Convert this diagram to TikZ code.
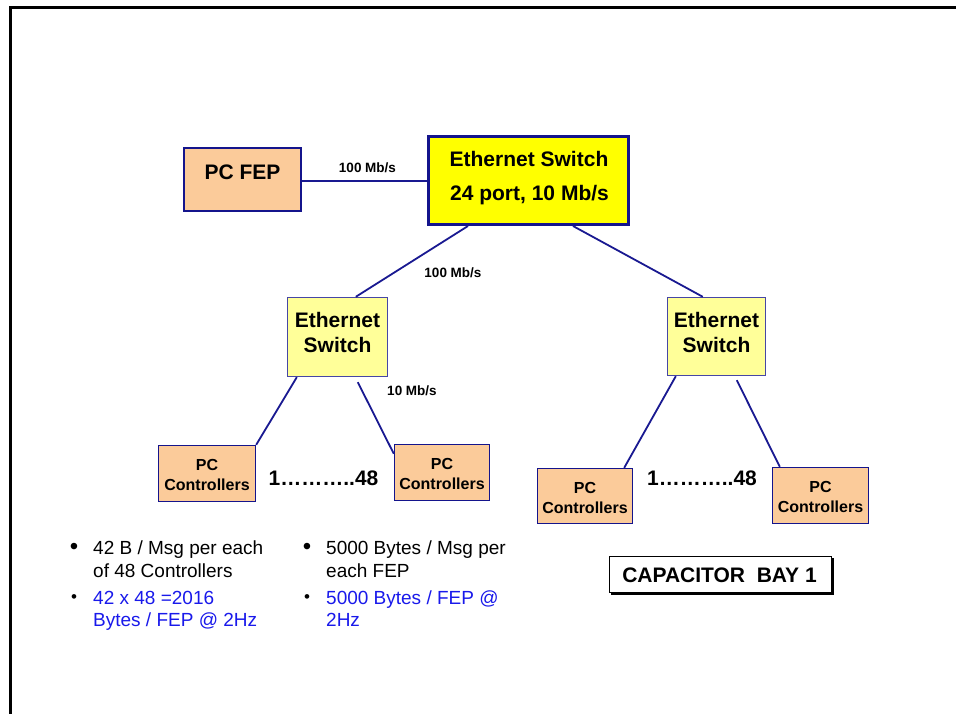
\documentclass[tikz,border=0pt]{standalone}
\usepackage{fontspec}
\setmainfont{Liberation Sans}
\definecolor{navyb}{RGB}{20,20,140}
\definecolor{edgeblue}{RGB}{25,25,145}
\definecolor{swborder}{RGB}{70,70,165}
\definecolor{peach}{RGB}{251,203,154}
\definecolor{ltyellow}{RGB}{255,255,153}
\definecolor{brtyellow}{RGB}{255,255,0}
\definecolor{bluetext}{RGB}{25,25,235}
\begin{document}
\begin{tikzpicture}[x=1pt,y=-1pt,
  conn/.style={draw=edgeblue,line width=1.8pt},
  fepbox/.style={draw=navyb,fill=peach,line width=2.2pt,inner sep=0pt},
  ctrlbox/.style={draw=navyb,fill=peach,line width=1.4pt,inner sep=0pt},
  bigsw/.style={draw=navyb,fill=brtyellow,line width=3pt,inner sep=0pt},
  smsw/.style={draw=swborder,fill=ltyellow,line width=1.4pt,inner sep=0pt},
  capbox/.style={draw=black,fill=white,line width=1.4pt,inner sep=0pt},
  big/.style={inner sep=0pt,font=\fontsize{21}{25}\selectfont\bfseries,text height=15pt,text depth=0pt},
  ctl/.style={inner sep=0pt,font=\fontsize{16}{19}\selectfont\bfseries,text height=11.5pt,text depth=0pt},
  rate/.style={inner sep=0pt,font=\fontsize{13.5}{16}\selectfont\bfseries,text height=9.7pt,text depth=0pt},
  bul/.style={inner sep=0pt,anchor=west,font=\fontsize{19}{22}\selectfont,text height=13.7pt,text depth=0pt},
  bigdot/.style={inner sep=0pt,font=\fontsize{24}{26}\selectfont},
  smalldot/.style={inner sep=0pt,font=\fontsize{17}{19}\selectfont},
  capt/.style={inner sep=0pt,font=\fontsize{21}{25}\selectfont\bfseries,text height=15pt,text depth=0pt}
]
\useasboundingbox (0,0) rectangle (956,713);
\fill[white] (0,0) rectangle (956,713);
% frame
\draw[black,line width=3pt] (957,7.5) -- (10.5,7.5) -- (10.5,714);

% boxes
\node[fepbox,minimum width=117pt,minimum height=63pt] (fep) at (242.5,179.5) {};
\node[bigsw,minimum width=200pt,minimum height=88pt] (bigs) at (528.5,180.5) {};
\node[smsw,minimum width=100pt,minimum height=79pt] (lsw) at (337.5,337) {};
\node[smsw,minimum width=98pt,minimum height=78pt] (rsw) at (716.5,336.5) {};
\node[ctrlbox,minimum width=97pt,minimum height=56pt] (llc) at (207,473.5) {};
\node[ctrlbox,minimum width=95pt,minimum height=56pt] (lrc) at (442,472.5) {};
\node[ctrlbox,minimum width=95pt,minimum height=55pt] (rlc) at (585,496) {};
\node[ctrlbox,minimum width=96pt,minimum height=56pt] (rrc) at (820.5,495.5) {};
\fill[black] (611,558) rectangle (834,595);
\node[capbox,minimum width=222pt,minimum height=36pt] (cap) at (720.5,574.5) {};

% connectors
\draw[conn,line width=2pt] ([yshift=-1.5pt]fep.east) -- ([yshift=-1.5pt]fep.east -| bigs.west);
\draw[conn] ([xshift=41pt]bigs.south west) -- ([xshift=69pt]lsw.north west);
\draw[conn] ([xshift=146pt]bigs.south west) -- ([xshift=36pt]rsw.north west);
\draw[conn] ([xshift=10pt]lsw.south west) -- (llc.north east);
\draw[conn] ([xshift=71pt,yshift=-5pt]lsw.south west) -- ([yshift=-10pt]lrc.north west);
\draw[conn] ([xshift=9pt]rsw.south west) -- ([xshift=-9pt]rlc.north east);
\draw[conn] ([xshift=70pt,yshift=-4pt]rsw.south west) -- ([xshift=8pt]rrc.north west);

% box texts
\node[big] (fept) at (242.5,172) {PC FEP};
\node[big] (bigt1) at (529,159) {Ethernet Switch};
\node[big] (bigt2) at (529.5,193) {24 port, 10 Mb/s};
\node[big] (lswt1) at (337.5,320) {Ethernet};
\node[big] (lswt2) at (337.5,345) {Switch};
\node[big] (rswt1) at (716.5,319.5) {Ethernet};
\node[big] (rswt2) at (716.5,345) {Switch};
\node[ctl] (llct1) at (207,465) {PC};
\node[ctl] (llct2) at (207,485) {Controllers};
\node[ctl] (lrct1) at (442,464) {PC};
\node[ctl] (lrct2) at (442,484) {Controllers};
\node[ctl] (rlct1) at (585,488) {PC};
\node[ctl] (rlct2) at (585,508) {Controllers};
\node[ctl] (rrct1) at (820.5,487) {PC};
\node[ctl] (rrct2) at (820.5,507) {Controllers};
\node[capt] (capt) at (719.5,574.5) {CAPACITOR\ \ BAY 1};

% rate labels
\node[rate] (r1) at (367.5,168) {100 Mb/s};
\node[rate] (r2) at (453,273) {100 Mb/s};
\node[rate] (r3) at (412,391) {10 Mb/s};

% ranges
\node[big] (rng1) at (323.5,478) {1………..48};
\node[big] (rng2) at (702,478) {1………..48};

% bullets
\node[bigdot] (b1) at (74,549) {•};
\node[smalldot] (b2) at (74,599) {•};
\node[bigdot] (b3) at (307,549) {•};
\node[smalldot] (b4) at (307,599) {•};
\node[bul] (l1) at (93,548) {42 B / Msg per each};
\node[bul] (l2) at (93,571) {of 48 Controllers};
\node[bul,text=bluetext] (l3) at (93,598) {42 x 48 =2016};
\node[bul,text=bluetext] (l4) at (93,620) {Bytes / FEP @ 2Hz};
\node[bul] (m1) at (326,548) {5000 Bytes / Msg per};
\node[bul] (m2) at (326,571) {each FEP};
\node[bul,text=bluetext] (m3) at (326,598) {5000 Bytes / FEP @};
\node[bul,text=bluetext] (m4) at (326,620) {2Hz};
\end{tikzpicture}
\end{document}
